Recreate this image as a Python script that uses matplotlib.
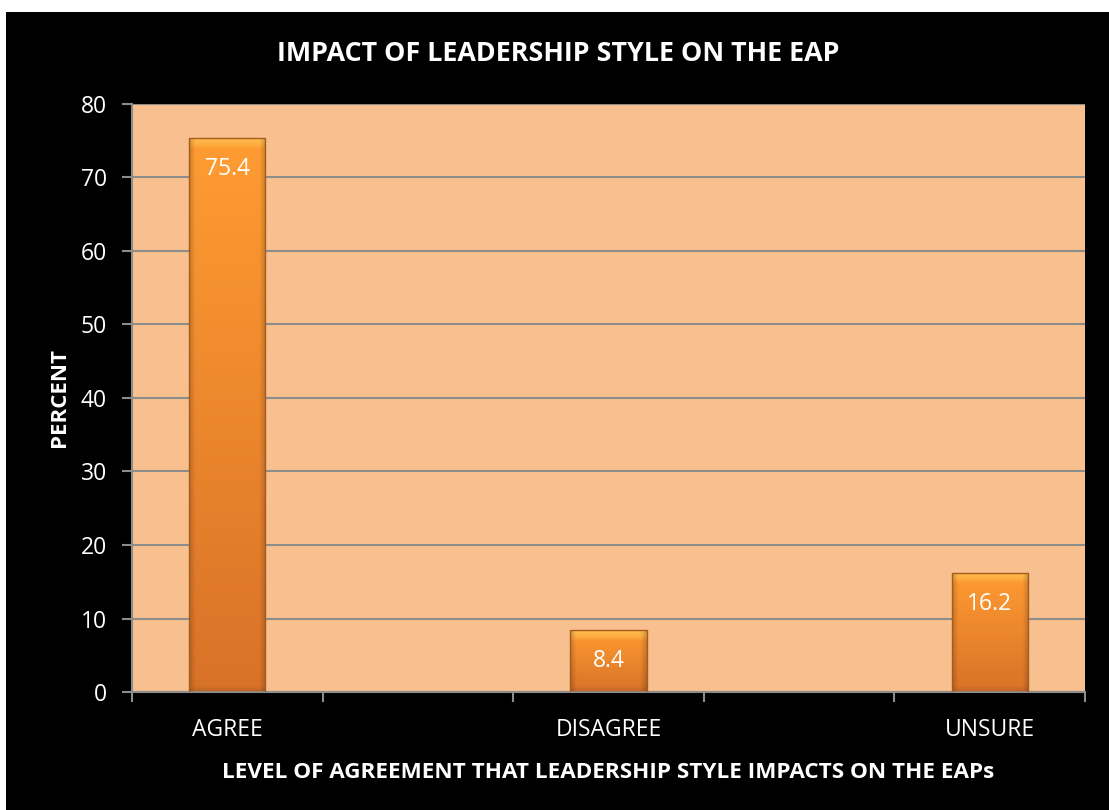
import numpy as np
import matplotlib.pyplot as plt
from matplotlib.colors import to_rgb
from matplotlib.patches import Rectangle

# survey results (percent); blank slots keep the wide category spacing
categories = ["AGREE", "", "DISAGREE", "", "UNSURE"]
values = [75.4, None, 8.4, None, 16.2]
yticks = [0, 10, 20, 30, 40, 50, 60, 70, 80]

title = "IMPACT OF LEADERSHIP STYLE ON THE EAP"
xlabel = "LEVEL OF AGREEMENT THAT LEADERSHIP STYLE IMPACTS ON THE EAPs"
ylabel = "PERCENT"

FONT = "Open Sans"
BG = "#000000"
PLOT_BG = "#F9C08F"
GRID = "#8C8C8C"
AX_H_PX = 588  # plot height in pixels, used to size the bevel


def shade_bar(ax, bar, ymax, top_col="#FF9C32", bot_col="#D87228", hi_col="#FFC453"):
    """Paint a bevelled vertical gradient into a bar patch."""
    x0, y0 = bar.get_x(), bar.get_y()
    w, h = bar.get_width(), bar.get_height()
    px_h = h / ymax * AX_H_PX
    ny, nx = 400, 80
    t = np.linspace(0, 1, ny)[:, None]  # 0 = top, 1 = bottom
    top = np.array(to_rgb(top_col))
    bot = np.array(to_rgb(bot_col))
    img = top[None, None, :] * (1 - t[..., None]) + bot[None, None, :] * t[..., None]
    img = np.repeat(img, nx, axis=1)
    # bright bevel along the top edge (about 10 px deep)
    bev = 10 / px_h
    hi = np.clip(1 - t / bev, 0, 1) ** 0.6
    img = img * (1 - 0.85 * hi[..., None]) + np.array(to_rgb(hi_col)) * 0.85 * hi[..., None]
    # slight shadow at the bottom edge
    sh = np.clip(1 - (1 - t) / (6 / px_h), 0, 1) * 0.12
    img = img * (1 - sh[..., None])
    # darker rims on the sides
    u = np.linspace(0, 1, nx)[None, :]
    side = np.clip(1 - np.minimum(u, 1 - u) / 0.08, 0, 1) * 0.18
    img = img * (1 - side[..., None])
    img = np.clip(img, 0, 1)
    im = ax.imshow(img, extent=(x0, x0 + w, y0, y0 + h), aspect="auto",
                   origin="upper", zorder=2, interpolation="bilinear")
    im.set_clip_path(bar)
    ax.add_patch(Rectangle((x0, y0), w, h, facecolor="none",
                           edgecolor="#A65A1C", linewidth=1.0, zorder=4))


fig = plt.figure(figsize=(11.09, 8.10), dpi=100)
fig.patch.set_facecolor("white")
fig.add_artist(Rectangle((6 / 1109, 0), 1, 798 / 810, transform=fig.transFigure,
                         facecolor=BG, edgecolor="none", zorder=0))

ax = fig.add_axes([132 / 1109, 118 / 810, 953 / 1109, AX_H_PX / 810])
ax.set_facecolor(PLOT_BG)

x = np.arange(len(categories))
heights = [v if v is not None else 0 for v in values]
bars = ax.bar(x, heights, width=0.4, color="none", edgecolor="none", zorder=2)
for bar, v in zip(bars, values):
    if v is None:
        continue
    shade_bar(ax, bar, yticks[-1])
    ax.annotate(f"{v}", (bar.get_x() + bar.get_width() / 2, v),
                xytext=(0, -31), textcoords="offset pixels",
                ha="center", va="center", color="white",
                fontsize=16.5, family=FONT, zorder=5)

ax.set_xlim(-0.5, len(categories) - 0.5)
ax.set_ylim(0, yticks[-1])
ax.set_yticks(yticks)
ax.set_yticklabels([str(t) for t in yticks], color="white", fontsize=16.5, family=FONT)
ax.set_xticks(x)
ax.set_xticklabels(categories, color="white", fontsize=16.5, family=FONT)
ax.set_xticks(np.arange(len(categories) + 1) - 0.5, minor=True)
ax.tick_params(axis="x", which="major", length=0, pad=19)
ax.tick_params(axis="x", which="minor", length=7, color=GRID, width=1.5)
ax.tick_params(axis="y", length=7, color=GRID, width=1.5, pad=11)

ax.yaxis.grid(True, color=GRID, linewidth=1.5, zorder=1)
ax.set_axisbelow(True)
for side in ("top", "right"):
    ax.spines[side].set_visible(False)
for side in ("left", "bottom"):
    ax.spines[side].set_color(GRID)
    ax.spines[side].set_linewidth(1.5)

ax.set_ylabel(ylabel, color="white", fontsize=16, fontweight="bold", family=FONT, labelpad=8)
ax.set_xlabel(xlabel, color="white", fontsize=16.2, fontweight="bold", family=FONT, labelpad=14)
fig.text(558 / 1109, 1 - 54 / 810, title, color="white", fontsize=19.4,
         fontweight="bold", family=FONT, ha="center", va="center")

fig.savefig("out.png", dpi=100, facecolor=fig.get_facecolor())
